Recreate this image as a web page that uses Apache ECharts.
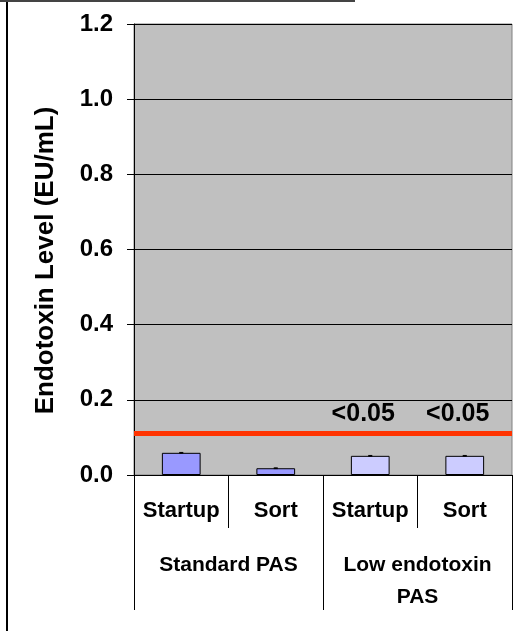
<!DOCTYPE html>
<html>
<head>
<meta charset="utf-8">
<script src="https://cdn.jsdelivr.net/npm/echarts@6/dist/echarts.min.js"></script>
<style>html,body{margin:0;padding:0;background:#fff}#c{width:523px;height:631px}</style>
</head>
<body>
<div id="c"></div>
<script>
var categories = ['Startup', 'Sort', 'Startup', 'Sort'];
var groups = ['Standard PAS', 'Low endotoxin\nPAS'];
var values = [0.059, 0.018, 0.051, 0.051];
var errors = [0.001, 0.001, 0.001, 0.001];
var barColors = ['#9999FF', '#9999FF', '#CCCCFF', '#CCCCFF'];
var barLabels = ['', '', '<0.05', '<0.05'];
var limitValue = 0.114;
var yTicks = { min: 0, max: 1.2, interval: 0.2 };
var yTitle = 'Endotoxin Level (EU/mL)';

var FONT = 'Arial, "Liberation Sans", sans-serif';
var chart = echarts.init(document.getElementById('c'));
chart.setOption({
  animation: false,
  backgroundColor: '#ffffff',
  textStyle: { fontFamily: FONT, color: '#000' },
  grid: { left: 134, right: 11, top: 24, bottom: 156, show: true,
          backgroundColor: '#C0C0C0', borderColor: '#808080', borderWidth: 1 },
  graphic: [
    { type: 'line', shape: { x1: 7, y1: 0, x2: 7, y2: 631 }, style: { stroke: '#000', lineWidth: 2 } },
    { type: 'line', shape: { x1: 0, y1: 1, x2: 355, y2: 1 }, style: { stroke: '#444', lineWidth: 2 } }
  ],
  xAxis: [
    { type: 'category', data: categories, position: 'bottom',
      axisLine: { show: true, lineStyle: { color: '#000', width: 1 } },
      axisTick: { show: true, length: 53, interval: 0, lineStyle: { color: '#000' } },
      axisLabel: { interval: 0, margin: 25, fontSize: 22, fontWeight: 'bold', color: '#000', fontFamily: FONT },
      splitLine: { show: false } },
    { type: 'category', data: groups, position: 'bottom', offset: 0,
      axisLine: { show: false },
      axisTick: { show: true, length: 135, interval: 0, lineStyle: { color: '#000' } },
      axisLabel: { interval: 0, margin: 74, fontSize: 21, fontWeight: 'bold', color: '#000',
                   lineHeight: 32, fontFamily: FONT },
      splitLine: { show: false } }
  ],
  yAxis: {
    type: 'value', min: yTicks.min, max: yTicks.max, interval: yTicks.interval,
    name: yTitle, nameLocation: 'middle', nameGap: 75, nameRotate: 90,
    nameTextStyle: { fontSize: 26, fontWeight: 'bold', color: '#000', fontFamily: FONT, padding: [0, 22, 0, 0] },
    axisLine: { show: true, lineStyle: { color: '#000', width: 1 } },
    axisTick: { show: true, length: 7, lineStyle: { color: '#000' } },
    axisLabel: { margin: 21, fontSize: 24, fontWeight: 'bold', color: '#000', fontFamily: FONT,
                 formatter: function (v) { return v.toFixed(1); } },
    splitLine: { show: true, lineStyle: { color: '#000', width: 1 } }
  },
  series: [
    { type: 'bar', xAxisIndex: 0, barWidth: '41%',
      data: values.map(function (v, i) {
        return { value: v, itemStyle: { color: barColors[i], borderColor: '#000', borderWidth: 1 },
                 label: { show: barLabels[i] !== '', formatter: barLabels[i] } };
      }),
      label: { position: 'top', distance: 29, offset: [-7, 0], fontSize: 25, fontWeight: 'bold', color: '#000', fontFamily: FONT },
      markLine: { silent: true, symbol: ['none', 'none'], label: { show: false },
        lineStyle: { color: '#FF3300', width: 5, type: 'solid' },
        data: [{ yAxis: limitValue }] }
    },
    { type: 'custom', xAxisIndex: 0, z: 5,
      data: values.map(function (v, i) { return [i, v, errors[i]]; }),
      renderItem: function (params, api) {
        var x = api.value(0), v = api.value(1), e = api.value(2);
        var hi = api.coord([x, v + e]), lo = api.coord([x, v - e]);
        var w = 4;
        return { type: 'group', children: [
          { type: 'line', shape: { x1: hi[0], y1: hi[1], x2: lo[0], y2: lo[1] }, style: { stroke: '#000', lineWidth: 1 } },
          { type: 'line', shape: { x1: hi[0] - w / 2, y1: hi[1], x2: hi[0] + w / 2, y2: hi[1] }, style: { stroke: '#000', lineWidth: 1 } },
          { type: 'line', shape: { x1: lo[0] - w / 2, y1: lo[1], x2: lo[0] + w / 2, y2: lo[1] }, style: { stroke: '#000', lineWidth: 1 } }
        ] };
      }
    }
  ]
});
</script>
</body>
</html>
